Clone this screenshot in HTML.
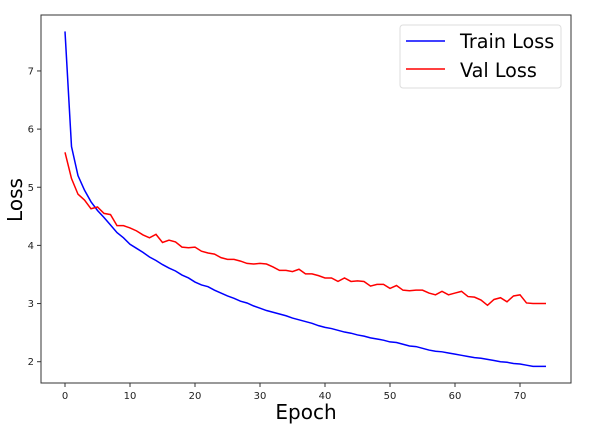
<!DOCTYPE html>
<html><head><meta charset="utf-8"><style>
body{margin:0;background:#fff;}
svg text{font-family:"DejaVu Sans","Liberation Sans",sans-serif;}
</style></head><body>
<svg id="chart" width="596" height="430" xmlns="http://www.w3.org/2000/svg">
<rect width="596" height="430" fill="#fff"/>
<g id="ticks"></g>
<polyline id="train" fill="none" stroke="#0000ff" stroke-width="1.5"/>
<polyline id="val" fill="none" stroke="#ff0000" stroke-width="1.5"/>
<rect x="41" y="15" width="530" height="368" fill="none" stroke="#333" stroke-width="1"/>
<text x="306" y="419" font-size="20" text-anchor="middle">Epoch</text>
<text transform="translate(22,200) rotate(-90)" font-size="20" text-anchor="middle">Loss</text>
<g>
<rect x="400" y="25" width="161" height="63" rx="3" fill="#fff" stroke="#ddd"/>
<line x1="406" y1="41" x2="445" y2="41" stroke="#0000ff" stroke-width="1.5"/>
<text x="460" y="48" font-size="19.2">Train Loss</text>
<line x1="406" y1="69" x2="445" y2="69" stroke="#ff0000" stroke-width="1.5"/>
<text x="460" y="77" font-size="19.2">Val Loss</text>
</g>
</svg>
<script>
const trainLoss=[7.68,5.7,5.2,4.95,4.75,4.6,4.48,4.35,4.22,4.13,4.02,3.95,3.88,3.8,3.74,3.67,3.61,3.56,3.49,3.44,3.37,3.32,3.29,3.23,3.18,3.13,3.09,3.04,3.01,2.96,2.92,2.88,2.85,2.82,2.79,2.75,2.72,2.69,2.66,2.62,2.59,2.57,2.54,2.51,2.49,2.46,2.44,2.41,2.39,2.37,2.34,2.33,2.3,2.27,2.26,2.23,2.2,2.18,2.17,2.15,2.13,2.11,2.09,2.07,2.06,2.04,2.02,2.0,1.99,1.97,1.96,1.94,1.92,1.92,1.92];
const valLoss=[5.6,5.15,4.88,4.78,4.63,4.66,4.55,4.53,4.34,4.34,4.3,4.25,4.18,4.13,4.19,4.05,4.09,4.06,3.97,3.96,3.97,3.9,3.87,3.85,3.79,3.76,3.76,3.73,3.69,3.68,3.69,3.68,3.63,3.57,3.57,3.55,3.59,3.51,3.51,3.48,3.44,3.44,3.38,3.44,3.38,3.39,3.38,3.3,3.33,3.33,3.26,3.31,3.23,3.22,3.23,3.23,3.18,3.15,3.21,3.15,3.18,3.21,3.12,3.11,3.06,2.97,3.07,3.1,3.03,3.13,3.15,3.01,3.0,3.0,3.0];
const xTicks=[0,10,20,30,40,50,60,70];
const yTicks=[2,3,4,5,6,7];
function xs(v){return 65+6.5*v;}
function ys(v){return 361.7-58.15*(v-2);}
document.getElementById('train').setAttribute('points',trainLoss.map((v,i)=>xs(i)+','+ys(v)).join(' '));
document.getElementById('val').setAttribute('points',valLoss.map((v,i)=>xs(i)+','+ys(v)).join(' '));
const g=document.getElementById('ticks');
const NS='http://www.w3.org/2000/svg';
xTicks.forEach(t=>{
 const l=document.createElementNS(NS,'line');
 
 
 l.setAttribute('x1',xs(t));l.setAttribute('x2',xs(t));l.setAttribute('y1',383);l.setAttribute('y2',387);l.setAttribute('stroke','#333');
 g.appendChild(l);
 const tx=document.createElementNS(NS,'text');
 
 
 tx.setAttribute('x',xs(t));tx.setAttribute('y',399);tx.setAttribute('font-size','10');tx.setAttribute('text-anchor','middle');tx.setAttribute('fill','#222');
 tx.textContent=t;g.appendChild(tx);
});
yTicks.forEach(t=>{
 const l=document.createElementNS(NS,'line');
 
 
 l.setAttribute('x1',37);l.setAttribute('x2',41);l.setAttribute('y1',ys(t));l.setAttribute('y2',ys(t));l.setAttribute('stroke','#333');
 g.appendChild(l);
 const tx=document.createElementNS(NS,'text');
 
 
 tx.setAttribute('x',34);tx.setAttribute('y',ys(t)+3.5);tx.setAttribute('font-size','10');tx.setAttribute('text-anchor','end');tx.setAttribute('fill','#222');
 tx.textContent=t;g.appendChild(tx);
});
</script>
</body></html>
